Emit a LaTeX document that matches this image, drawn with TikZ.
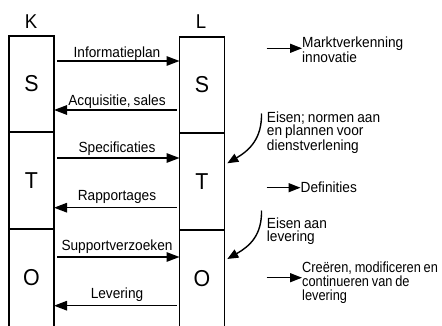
\documentclass[tikz,border=0pt]{standalone}
\usepackage{fontspec}
\setmainfont{Liberation Sans}[FakeStretch=0.93,WordSpace=0.8]
\usetikzlibrary{arrows.meta}
\begin{document}
\begin{tikzpicture}[x=1pt,y=-1pt,
  cell/.style={draw,line width=1.4pt,minimum width=45pt,outer sep=0pt,inner sep=0pt,
    font=\fontsize{23}{25}\selectfont},
  head/.style={font=\fontsize{20}{22}\selectfont,anchor=base,inner sep=0pt},
  lbl/.style={font=\fontsize{14.7}{13.7}\selectfont,anchor=base,inner sep=0pt},
  note/.style={font=\fontsize{14.7}{13.7}\selectfont,anchor=base west,inner sep=0pt,align=left},
  flow/.style={line width=1.4pt,-{Triangle[length=13pt,width=9.5pt]}},
  side/.style={line width=1.4pt,-{Triangle[length=12pt,width=9pt]}},
  curvearrow/.style={line width=1.4pt,-{Triangle[length=11pt,width=9pt]}}]
\useasboundingbox (0,0) rectangle (442,326);

% column headings
\node[head] (K) at (31,28.3) {K};
\node[head] (L) at (201,28.3) {L};

% left column
\node[cell,minimum height=96pt] (KS) at (31.5,84) {S};
\node[cell,minimum height=97pt] (KT) at (31.5,180.5) {T};
\node[cell,minimum height=98pt] (KO) at (31.5,278) {O};
% right column
\node[cell,minimum height=96pt] (LS) at (202,85) {S};
\node[cell,minimum height=97pt] (LT) at (202,181.5) {T};
\node[cell,minimum height=97pt] (LO) at (202,278.5) {O};

% flows between the columns
\draw[flow,shorten <=3pt] ([yshift=23pt]KS.east) -- ([yshift=24pt]LS.west);
\draw[flow,shorten <=3pt] ([yshift=-25pt]LS.west) -- ([yshift=-26pt]KS.east);
\draw[flow,shorten <=3pt] ([yshift=22.5pt]KT.east) -- ([yshift=23.5pt]LT.west);
\draw[flow,shorten <=3pt] ([yshift=-26.2pt]LT.west) -- ([yshift=-27.2pt]KT.east);
\draw[flow,shorten <=3pt] ([yshift=21pt]KO.east) -- ([yshift=21.5pt]LO.west);
\draw[flow,shorten <=3pt] ([yshift=-27.2pt]LO.west) -- ([yshift=-27.7pt]KO.east);

\node[lbl] (l1) at (117,57.3) {Informatieplan};
\node[lbl] (l2) at (117,106) {Acquisitie, sales};
\node[lbl] (l3) at (117,152.7) {Specificaties};
\node[lbl] (l4) at (117,200.7) {Rapportages};
\node[lbl] (l5) at (117,250) {Supportverzoeken};
\node[lbl] (l6) at (117,298) {Levering};

% notes on the right (a multi-line note sits on the baseline of its last line)
\coordinate (m1) at (266.7,48.3);
\node[note] (mk) at (302,62.3) {Marktverkenning\\innovatie};
\draw[side] (m1) -- (m1 -| mk.west);

\coordinate (e1) at (261.5,113.5);
\coordinate (e1t) at (227.3,163.3);
\node[note] (en) at (266.7,150.7) {Eisen; normen aan\\en plannen voor\\dienstverlening};
\draw[curvearrow] (e1) .. controls (262,138) and (250,150) .. (e1t);

\coordinate (d1) at (266.7,187.7);
\node[note,anchor=west] (df) at (300.5,187.7) {Definities};
\draw[side] (d1) -- (df.west);

\coordinate (e2) at (261.5,210.5);
\coordinate (e2t) at (227.3,259);
\node[note] (el) at (266.7,241.7) {Eisen aan\\levering};
\draw[curvearrow] (e2) .. controls (262,235) and (250,246) .. (e2t);

\coordinate (c1) at (266.7,277.7);
\node[note,font=\fontsize{14.7}{13.9}\selectfont\addfontfeature{FakeStretch=0.87}] (cr) at (302,300)
  {Creëren, modificeren en\\continueren van de\\levering};
\draw[side] (c1) -- (c1 -| cr.west);
\end{tikzpicture}
\end{document}
